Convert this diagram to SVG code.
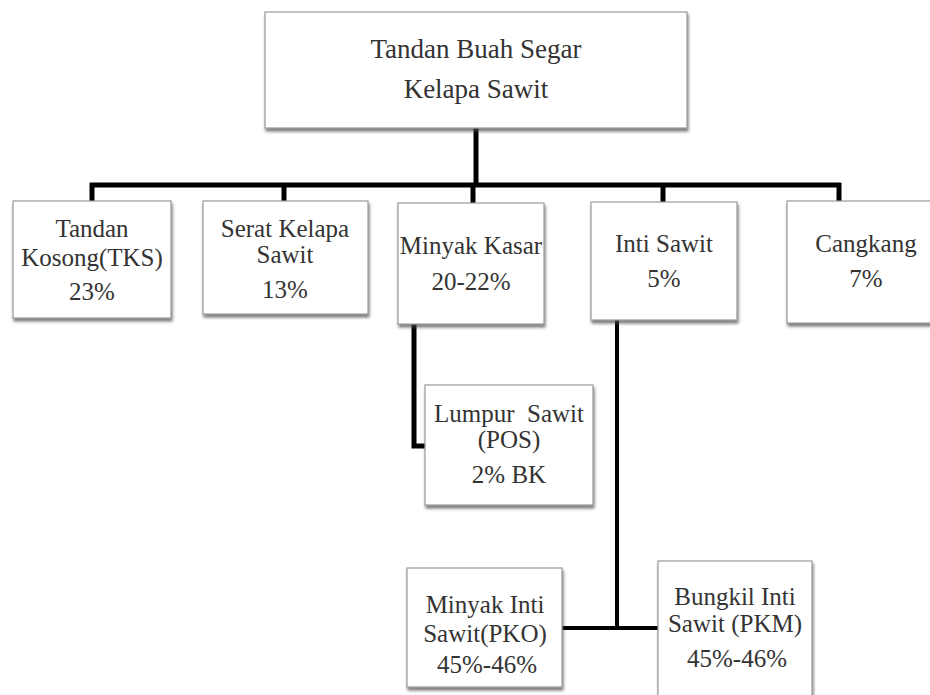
<svg xmlns="http://www.w3.org/2000/svg" width="930" height="695" viewBox="0 0 930 695">
<defs>
<filter id="sh" x="-10%" y="-10%" width="130%" height="130%">
<feDropShadow dx="1" dy="3" stdDeviation="1.5" flood-color="#444" flood-opacity="0.7"/>
</filter>
<style>
.box{fill:#fff;stroke:#9a9a9a;stroke-width:1.2;filter:url(#sh)}
.t{font-family:"Liberation Serif","Times New Roman",serif;font-size:25px;fill:#333;text-anchor:middle}
.big{font-size:27px}
.ln{stroke:#000;stroke-width:5;fill:none;stroke-linejoin:miter}
.ln2{stroke:#000;stroke-width:4;fill:none}
</style>
</defs>
<rect width="930" height="695" fill="#fff"/>
<g id="connectors">
<line class="ln" x1="476" y1="128" x2="476" y2="185"/>
<line class="ln" x1="90" y1="185" x2="841" y2="185"/>
<line class="ln" x1="92" y1="183" x2="92" y2="201"/>
<line class="ln" x1="284" y1="183" x2="284" y2="201"/>
<line class="ln" x1="473" y1="183" x2="473" y2="203"/>
<line class="ln" x1="663" y1="183" x2="663" y2="202"/>
<line class="ln" x1="839" y1="183" x2="839" y2="201"/>
<polyline class="ln" points="414,324 414,446 426,446"/>
<line class="ln2" x1="617" y1="320" x2="617" y2="628"/>
<line class="ln2" x1="562" y1="628" x2="658" y2="628"/>
</g>
<g id="tbs">
<rect class="box" x="265" y="12" width="422" height="116"/>
<text class="t big" x="476" y="58">Tandan Buah Segar</text>
<text class="t big" x="476" y="98">Kelapa Sawit</text>
</g>
<g id="tks">
<rect class="box" x="13" y="201" width="158" height="117"/>
<text class="t" x="92" y="237">Tandan</text>
<text class="t" x="92" y="266">Kosong(TKS)</text>
<text class="t" x="92" y="300">23%</text>
</g>
<g id="serat">
<rect class="box" x="203" y="201" width="165" height="113"/>
<text class="t" x="285" y="237">Serat Kelapa</text>
<text class="t" x="285" y="263">Sawit</text>
<text class="t" x="285" y="298">13%</text>
</g>
<g id="minyak">
<rect class="box" x="398" y="203" width="146" height="121"/>
<text class="t" x="471" y="254">Minyak Kasar</text>
<text class="t" x="471" y="290">20-22%</text>
</g>
<g id="inti">
<rect class="box" x="591" y="202" width="146" height="118"/>
<text class="t" x="664" y="252">Inti Sawit</text>
<text class="t" x="664" y="287">5%</text>
</g>
<g id="cangkang">
<rect class="box" x="787" y="201" width="150" height="122"/>
<text class="t" x="866" y="252">Cangkang</text>
<text class="t" x="866" y="287">7%</text>
</g>
<g id="lumpur">
<rect class="box" x="425" y="385" width="168" height="120"/>
<text class="t" x="509" y="422" xml:space="preserve">Lumpur  Sawit</text>
<text class="t" x="509" y="448">(POS)</text>
<text class="t" x="509" y="483">2% BK</text>
</g>
<g id="pko">
<rect class="box" x="407" y="568" width="155" height="119"/>
<text class="t" x="485" y="613">Minyak Inti</text>
<text class="t" x="485" y="642">Sawit(PKO)</text>
<text class="t" x="487" y="673">45%-46%</text>
</g>
<g id="pkm">
<rect class="box" x="658" y="561" width="154" height="140"/>
<text class="t" x="735" y="605">Bungkil Inti</text>
<text class="t" x="735" y="632">Sawit (PKM)</text>
<text class="t" x="737" y="667">45%-46%</text>
</g>
</svg>
